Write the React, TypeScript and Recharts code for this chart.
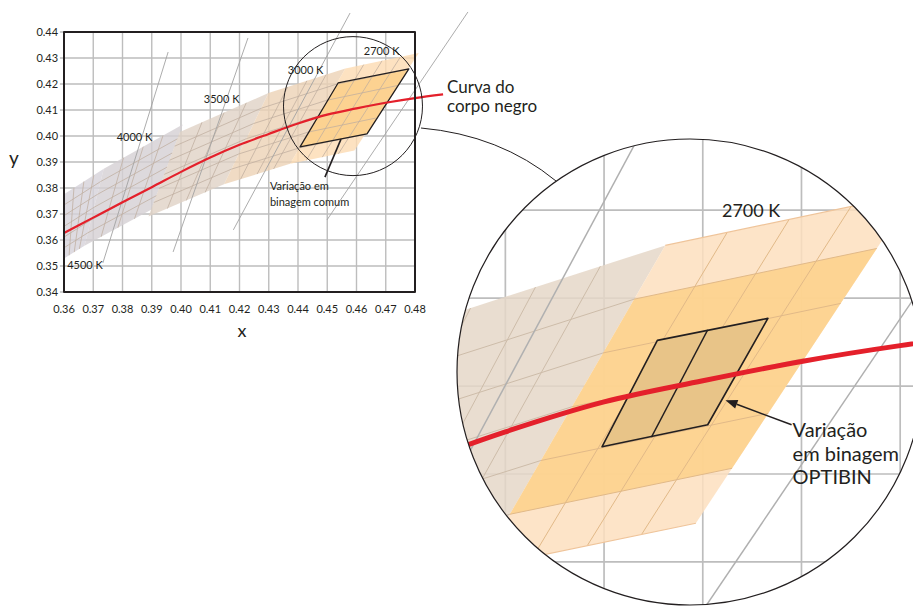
import { ComposedChart, Scatter, XAxis, YAxis, Curve } from "recharts";

type Pt = { x: number; y: number };

const INK = "#231f20";

// eixos do gráfico principal
const X_TICKS = [0.36, 0.37, 0.38, 0.39, 0.4, 0.41, 0.42, 0.43, 0.44, 0.45, 0.46, 0.47, 0.48];
const Y_TICKS = [0.34, 0.35, 0.36, 0.37, 0.38, 0.39, 0.4, 0.41, 0.42, 0.43, 0.44];

// curva do corpo negro
const LOCUS_X = [0.36, 0.37, 0.38, 0.39, 0.4, 0.41, 0.42, 0.43, 0.44, 0.45, 0.46, 0.47, 0.48, 0.4896];
const LOCUS_Y = [0.3627, 0.3686, 0.3745, 0.3803, 0.3862, 0.3917, 0.3966, 0.4008, 0.4048, 0.4082, 0.4106, 0.4128, 0.4146, 0.416];

// quadrângulos de CCT: sup. esq., sup. dir., inf. dir., inf. esq.
const Q4500: Pt[] = [{ x: 0.36, y: 0.3776 }, { x: 0.3736, y: 0.3874 }, { x: 0.367, y: 0.3578 }, { x: 0.36, y: 0.3529 }];
const Q4000: Pt[] = [{ x: 0.3736, y: 0.3874 }, { x: 0.4006, y: 0.4044 }, { x: 0.3898, y: 0.3716 }, { x: 0.367, y: 0.3578 }];
const Q3500: Pt[] = [{ x: 0.3996, y: 0.4015 }, { x: 0.4299, y: 0.4165 }, { x: 0.4147, y: 0.3814 }, { x: 0.3889, y: 0.369 }];
const Q3000: Pt[] = [{ x: 0.4299, y: 0.4165 }, { x: 0.4562, y: 0.426 }, { x: 0.4373, y: 0.3893 }, { x: 0.4147, y: 0.3814 }];
const Q2700: Pt[] = [{ x: 0.4562, y: 0.426 }, { x: 0.4813, y: 0.4319 }, { x: 0.4593, y: 0.3944 }, { x: 0.4373, y: 0.3893 }];

const COMMON_BIN: Pt[] = [{ x: 0.4537, y: 0.4204 }, { x: 0.4779, y: 0.4258 }, { x: 0.4636, y: 0.4008 }, { x: 0.4407, y: 0.3958 }];
const OPTIBIN: Pt[] = [{ x: 0.4554, y: 0.4152 }, { x: 0.4666, y: 0.4177 }, { x: 0.4605, y: 0.4056 }, { x: 0.4498, y: 0.4031 }];
const OPTIBIN_SPLIT: Pt[] = [{ x: 0.4605, y: 0.4164 }, { x: 0.4548, y: 0.4042 }];

// linhas isotérmicas cinzentas
const ISO_LINES: Pt[][] = [
  [{ x: 0.3733, y: 0.3512 }, { x: 0.3956, y: 0.4323 }],
  [{ x: 0.3973, y: 0.3554 }, { x: 0.4229, y: 0.4377 }],
  [{ x: 0.4179, y: 0.3639 }, { x: 0.4578, y: 0.4473 }],
  [{ x: 0.4499, y: 0.3677 }, { x: 0.4981, y: 0.4477 }],
];

const CCT_LABELS = [
  { x: 0.3672, y: 0.3505, text: "4500 K" },
  { x: 0.3841, y: 0.4, text: "4000 K" },
  { x: 0.4139, y: 0.4144, text: "3500 K" },
  { x: 0.4426, y: 0.4256, text: "3000 K" },
  { x: 0.4686, y: 0.433, text: "2700 K" },
];
const COMMON_NOTE = [{ x: 0.4304, y: 0.3792, lines: ["Variação em", "binagem comum"] }];
const COMMON_POINTER: Pt[] = [{ x: 0.4492, y: 0.3842 }, { x: 0.4547, y: 0.3988 }];
const ZOOM_CENTER: Pt[] = [{ x: 0.4588, y: 0.4115 }];

// detalhe ampliado
const INSET_X: [number, number] = [0.4351, 0.4813];
const INSET_Y: [number, number] = [0.3851, 0.4381];
const INSET_LABEL = [{ x: 0.4649, y: 0.43, text: "2700 K" }];
const OPTIBIN_NOTE = [{ x: 0.4691, y: 0.4042, lines: ["Variação", "em binagem", "OPTIBIN"] }];
const OPTIBIN_ARROW: Pt[] = [{ x: 0.469, y: 0.4056 }, { x: 0.4623, y: 0.4084 }];

const TICK_STUB = 0.0014;
const fmt = (v: number) => v.toFixed(2);
const NoDot = () => <g />;

const lerp = (a: Pt, b: Pt, t: number): Pt => ({ x: a.x + (b.x - a.x) * t, y: a.y + (b.y - a.y) * t });

function subGrid(q: Pt[], cols: number, rows: number): Pt[][] {
  const [ul, ur, lr, ll] = q;
  const out: Pt[][] = [];
  for (let i = 1; i < cols; i++) out.push([lerp(ul, ur, i / cols), lerp(ll, lr, i / cols)]);
  for (let j = 1; j < rows; j++) out.push([lerp(ul, ll, j / rows), lerp(ur, lr, j / rows)]);
  return out;
}

function middleRows(q: Pt[], rows: number): Pt[] {
  const [ul, ur, lr, ll] = q;
  return [lerp(ul, ll, 1 / rows), lerp(ur, lr, 1 / rows), lerp(ur, lr, (rows - 1) / rows), lerp(ul, ll, (rows - 1) / rows)];
}

const toD = (pts: { x: number; y: number }[], closed: boolean) =>
  pts.map((p, i) => `${i ? "L" : "M"}${p.x.toFixed(2)},${p.y.toFixed(2)}`).join("") + (closed ? "Z" : "");

function polygon(key: string, data: Pt[], fill: string, opacity = 1, stroke = "none", sw = 0) {
  return (
    <Scatter
      key={key}
      data={data}
      shape={NoDot}
      isAnimationActive={false}
      line={(p: any) => <path d={toD(p.points, true)} fill={fill} fillOpacity={opacity} stroke={stroke} strokeWidth={sw} strokeLinejoin="round" />}
    />
  );
}

function polyline(key: string, data: Pt[], stroke: string, sw: number) {
  return (
    <Scatter
      key={key}
      data={data}
      shape={NoDot}
      isAnimationActive={false}
      line={(p: any) => <path d={toD(p.points, false)} fill="none" stroke={stroke} strokeWidth={sw} />}
    />
  );
}

function locus(key: string, stroke: string, sw: number) {
  const data = LOCUS_X.map((x, i) => ({ x, y: LOCUS_Y[i] }));
  return (
    <Scatter
      key={key}
      data={data}
      shape={NoDot}
      isAnimationActive={false}
      line={(p: any) => <Curve points={p.points} type="monotone" stroke={stroke} strokeWidth={sw} fill="none" />}
    />
  );
}

function arrow(key: string, data: Pt[]) {
  return (
    <Scatter
      key={key}
      data={data}
      shape={NoDot}
      isAnimationActive={false}
      line={(p: any) => {
        const a = p.points[0];
        const b = p.points[p.points.length - 1];
        const ang = Math.atan2(b.y - a.y, b.x - a.x);
        const L = 12;
        const W = 4.5;
        const bx = b.x - L * Math.cos(ang);
        const by = b.y - L * Math.sin(ang);
        const s = Math.sin(ang);
        const c = Math.cos(ang);
        return (
          <g>
            <path d={`M${a.x},${a.y}L${bx},${by}`} stroke={INK} strokeWidth={1.6} fill="none" />
            <path d={`M${b.x},${b.y}L${bx + W * s},${by - W * c}L${bx - W * s},${by + W * c}Z`} fill={INK} />
          </g>
        );
      }}
    />
  );
}

function labels(key: string, data: { x: number; y: number; text: string }[], size: number) {
  return (
    <Scatter
      key={key}
      data={data}
      isAnimationActive={false}
      shape={(p: any) => (
        <text x={p.cx} y={p.cy} textAnchor="middle" dominantBaseline="central" fontSize={size} fill={INK}>
          {p.payload.text}
        </text>
      )}
    />
  );
}

function note(key: string, data: { x: number; y: number; lines: string[] }[], size: number, lh: number) {
  return (
    <Scatter
      key={key}
      data={data}
      isAnimationActive={false}
      shape={(p: any) => (
        <text x={p.cx} y={p.cy} fontSize={size} fill={INK}>
          {p.payload.lines.map((t: string, i: number) => (
            <tspan key={t} x={p.cx} dy={i ? lh : 0}>
              {t}
            </tspan>
          ))}
        </text>
      )}
    />
  );
}

const X0 = X_TICKS[0];
const X1 = X_TICKS[X_TICKS.length - 1];
const Y0 = Y_TICKS[0];
const Y1 = Y_TICKS[Y_TICKS.length - 1];
const FRAME: Pt[] = [{ x: X0, y: Y0 }, { x: X1, y: Y0 }, { x: X1, y: Y1 }, { x: X0, y: Y1 }];
const GRID_V = X_TICKS.slice(1, -1).map((x) => [{ x, y: Y0 }, { x, y: Y1 }]);
const GRID_H = Y_TICKS.map((y) => [{ x: X0 - TICK_STUB, y }, { x: X1, y }]);

const MAIN_BANDS = [
  { id: "4500", q: Q4500, fill: "#d6d2da" },
  { id: "4000", q: Q4000, fill: "#d4cfd3" },
  { id: "3500", q: Q3500, fill: "#e0d2c5" },
  { id: "3000", q: Q3000, fill: "#ecd2b5" },
  { id: "2700", q: Q2700, fill: "#fcdbb2" },
];

const INSET_GRID_V = X_TICKS.filter((x) => x > INSET_X[0] && x < INSET_X[1]).map((x) => [{ x, y: INSET_Y[0] }, { x, y: INSET_Y[1] }]);
const INSET_GRID_H = Y_TICKS.filter((y) => y > INSET_Y[0] && y < INSET_Y[1]).map((y) => [{ x: INSET_X[0], y }, { x: INSET_X[1], y }]);

export default function App() {
  const mainSeries = [
    ...GRID_V.map((l, i) => polyline(`gv${i}`, l, "#bdbdbd", 1.4)),
    ...GRID_H.map((l, i) => polyline(`gh${i}`, l, "#bdbdbd", 1.4)),
    ...MAIN_BANDS.map((b) => polygon(`b${b.id}`, b.q, b.fill, 0.8)),
    polygon("common", COMMON_BIN, "#fcd291"),
    ...MAIN_BANDS.flatMap((b) => subGrid(b.q, 4, 6).map((l, i) => polyline(`s${b.id}-${i}`, l, "#bfae9f", 0.75))),
    polygon("commonEdge", COMMON_BIN, "none", 1, INK, 1.3),
    ...ISO_LINES.map((l, i) => polyline(`iso${i}`, l, "#a3a3a3", 0.9)),
    locus("locus", "#e4202b", 2.2),
    polygon("frame", FRAME, "none", 1, INK, 2),
    polyline("ptr", COMMON_POINTER, INK, 1.6),
    <Scatter
      key="zoom"
      data={ZOOM_CENTER}
      isAnimationActive={false}
      shape={(p: any) => <circle cx={p.cx} cy={p.cy} r={69.5} fill="none" stroke={INK} strokeWidth={1} />}
    />,
    labels("cct", CCT_LABELS, 11),
    note("commonNote", COMMON_NOTE, 11, 16),
  ];

  const insetSeries = [
    ...INSET_GRID_V.map((l, i) => polyline(`igv${i}`, l, "#bdbdbd", 1.7)),
    ...INSET_GRID_H.map((l, i) => polyline(`igh${i}`, l, "#bdbdbd", 1.7)),
    polygon("i3000", Q3000, "#e5d7c8", 0.85),
    polygon("i2700", Q2700, "#fddfbe", 0.85),
    polygon("i2700m", middleRows(Q2700, 6), "#fdd18a", 0.85),
    ...subGrid(Q3000, 4, 6).map((l, i) => polyline(`is3-${i}`, l, "#cdbca9", 1)),
    ...subGrid(Q2700, 4, 6).map((l, i) => polyline(`is2-${i}`, l, "#e1b988", 1)),
    polyline("iEdge", [Q2700[0], Q2700[1]], "#efc49a", 1.2),
    polyline("iEdge2", [Q2700[2], Q2700[3]], "#efc49a", 1.2),
    ...ISO_LINES.map((l, i) => polyline(`iiso${i}`, l, "#b0b0b0", 1.5)),
    polygon("optibin", OPTIBIN, "#e8c488", 1, INK, 1.6),
    polyline("optisplit", OPTIBIN_SPLIT, INK, 1.4),
    locus("ilocus", "#e4202b", 5),
    arrow("iarrow", OPTIBIN_ARROW),
    labels("ilabel", INSET_LABEL, 18),
    note("inote", OPTIBIN_NOTE, 20, 23.5),
  ];

  return (
    <div
      style={{
        position: "absolute",
        left: 0,
        top: 0,
        width: 913,
        height: 606,
        overflow: "hidden",
        background: "#fff",
        fontFamily: "Lato, 'Open Sans', sans-serif",
      }}
    >
      <div style={{ position: "absolute", left: 0, top: 0 }}>
        <ComposedChart width={480} height={340} margin={{ top: 6, right: 6.5, bottom: 18.8, left: 0 }}>
          <XAxis
            type="number"
            dataKey="x"
            domain={[0.358, 0.5]}
            allowDataOverflow
            ticks={X_TICKS}
            interval={0}
            tickFormatter={fmt}
            tickLine={false}
            axisLine={false}
            tickSize={0}
            tickMargin={8}
            height={24}
            tick={{ fontSize: 11, fill: INK }}
          />
          <YAxis
            type="number"
            dataKey="y"
            domain={[0.338, 0.45]}
            allowDataOverflow
            ticks={Y_TICKS}
            interval={0}
            tickFormatter={fmt}
            tickLine={false}
            axisLine={false}
            tickSize={0}
            tickMargin={0}
            width={58.15}
            tick={{ fontSize: 11, fill: INK }}
          />
          {mainSeries}
        </ComposedChart>
      </div>

      <div
        style={{
          position: "absolute",
          left: 457,
          top: 139,
          width: 456,
          height: 466,
          background: "#fff",
          clipPath: "circle(233px at 233px 233px)",
        }}
      >
        <ComposedChart width={456} height={466} margin={{ top: 0, right: 0, bottom: 0, left: 0 }}>
          <XAxis type="number" dataKey="x" domain={INSET_X} allowDataOverflow hide />
          <YAxis type="number" dataKey="y" domain={INSET_Y} allowDataOverflow hide />
          {insetSeries}
        </ComposedChart>
      </div>

      <svg width={913} height={606} style={{ position: "absolute", left: 0, top: 0, pointerEvents: "none" }}>
        <path d="M421,128 Q500,135 556,181" fill="none" stroke={INK} strokeWidth={1} />
        <circle cx={690} cy={372} r={233} fill="none" stroke={INK} strokeWidth={1.2} />
        <text x={447} y={92.5} fontSize={17} fill={INK}>Curva do</text>
        <text x={447} y={112} fontSize={17} fill={INK}>corpo negro</text>
        <text x={14} y={164.5} fontSize={19} fill={INK} textAnchor="middle">y</text>
        <text x={242} y={337} fontSize={18} fill={INK} textAnchor="middle">x</text>
      </svg>
    </div>
  );
}
